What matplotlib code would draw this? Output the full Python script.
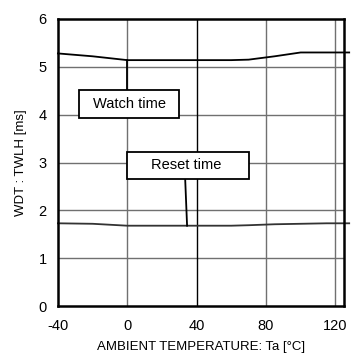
import matplotlib.pyplot as plt
from matplotlib.patches import Rectangle

plt.rcParams["font.family"] = ["Liberation Sans", "DejaVu Sans"]
plt.rcParams["axes.unicode_minus"] = False

# temperature [degC] vs WDT time [ms]
temp = [-40, -20, 0, 20, 40, 60, 70, 85, 100, 115, 128]
watch_time = [5.28, 5.22, 5.14, 5.14, 5.14, 5.14, 5.15, 5.22, 5.30, 5.30, 5.30]
reset_time = [1.73, 1.72, 1.68, 1.68, 1.68, 1.68, 1.69, 1.71, 1.72, 1.73, 1.73]

x_ticks = [-40, 0, 40, 80, 120]
y_ticks = [0, 1, 2, 3, 4, 5, 6]

fig = plt.figure(figsize=(3.51, 3.58), dpi=100)
ax = fig.add_axes([0.165, 0.145, 0.815, 0.802])

ax.set_xlim(-40, 125)
ax.set_ylim(0, 6)

# grid
for y in y_ticks[1:-1]:
    ax.axhline(y, color="#707070", lw=1.0, zorder=1)
for x in x_ticks[1:]:
    c = "black" if x == 40 else "#707070"
    ax.axvline(x, color=c, lw=1.0, zorder=1)

ax.plot(temp, watch_time, color="black", lw=1.3, zorder=3, clip_on=False)
ax.plot(temp, reset_time, color="#333333", lw=1.3, zorder=3, clip_on=False)

# labels with leader lines
ax.plot([0, 0], [4.52, 5.14], color="black", lw=1.3, zorder=3)
ax.add_patch(Rectangle((-28, 3.93), 58, 0.59, facecolor="white",
                       edgecolor="black", lw=1.3, zorder=4))
ax.text(1.5, 4.225, "Watch time", ha="center", va="center", fontsize=10.5, zorder=5)

ax.plot([33.4, 34.5], [2.66, 1.68], color="black", lw=1.3, zorder=3)
ax.add_patch(Rectangle((0, 2.66), 70, 0.56, facecolor="white",
                       edgecolor="black", lw=1.3, zorder=4))
ax.text(34, 2.94, "Reset time", ha="center", va="center", fontsize=10.5, zorder=5)

ax.set_xticks(x_ticks)
ax.set_yticks(y_ticks)
ax.tick_params(length=0, labelsize=10.5, pad=9)
ax.tick_params(axis="y", pad=8)
for s in ax.spines.values():
    s.set_linewidth(1.8)
    s.set_zorder(6)

ax.set_xlabel("AMBIENT TEMPERATURE: Ta [\u00b0C]", fontsize=9.5, labelpad=6)
ax.set_ylabel("WDT : TWLH [ms]", fontsize=9.5, labelpad=8)

fig.savefig("out.png", dpi=100)
